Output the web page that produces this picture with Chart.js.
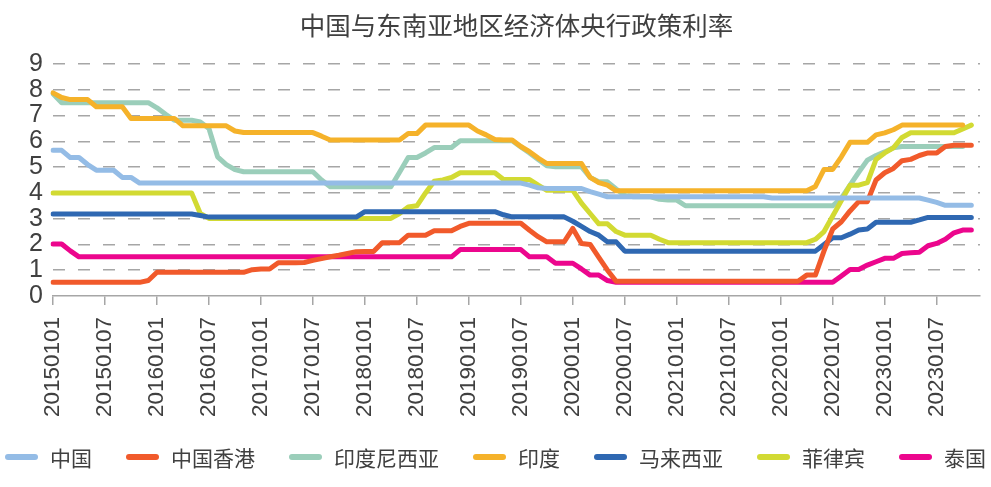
<!DOCTYPE html>
<html>
<head>
<meta charset="utf-8">
<script src="https://cdn.jsdelivr.net/npm/chart.js@4.4.0/dist/chart.umd.min.js"></script>
<style>
html,body{margin:0;padding:0;background:#ffffff;}
#wrap{width:991px;height:487px;position:relative;}
canvas{display:block;}
</style>
</head>
<body>
<div id="wrap"><canvas id="c" width="991" height="487" style="width:991px;height:487px"></canvas></div>
<script>
// ---------- data (monthly, starting 2015-01) ----------
const chartTitle = '中国与东南亚地区经济体央行政策利率';
const seriesNames = ['中国', '中国香港', '印度尼西亚', '印度', '马来西亚', '菲律宾', '泰国'];
const seriesColors = ['#94BCE6', '#F15A2B', '#9BCEBA', '#F5B22A', '#2F68B2', '#D2DA33', '#EC068D'];
const tickLabels = ['20150101','20150107','20160101','20160107','20170101','20170107','20180101','20180107',
  '20190101','20190107','20200101','20200107','20210101','20210107','20220101','20220107','20230101','20230107'];
const yMin = 0;
const yMax = 9;
const yStep = 1;

const china = [
  5.65,5.65,5.37,5.37,5.1,4.88,4.88,4.88,4.6,4.6,4.38,4.38,
  4.38,4.38,4.38,4.38,4.38,4.38,4.38,4.38,4.38,4.38,4.38,4.38,
  4.38,4.38,4.38,4.38,4.38,4.38,4.38,4.38,4.38,4.38,4.38,4.38,
  4.38,4.38,4.38,4.38,4.38,4.38,4.38,4.38,4.38,4.38,4.38,4.38,
  4.38,4.38,4.38,4.38,4.38,4.38,4.38,4.3,4.2,4.17,4.17,4.17,
  4.17,4.17,4.05,3.95,3.85,3.85,3.85,3.85,3.85,3.85,3.85,3.85,
  3.85,3.85,3.85,3.85,3.85,3.85,3.85,3.85,3.85,3.85,3.85,3.8,
  3.8,3.8,3.8,3.8,3.8,3.8,3.8,3.8,3.8,3.8,3.8,3.8,
  3.8,3.8,3.8,3.8,3.8,3.72,3.63,3.52,3.52,3.52,3.52
];
const hongKong = [
  0.53,0.53,0.53,0.53,0.53,0.53,0.53,0.53,0.53,0.53,0.53,0.6,
  0.92,0.92,0.92,0.92,0.92,0.92,0.92,0.92,0.92,0.92,0.92,1.02,
  1.05,1.05,1.29,1.29,1.29,1.3,1.38,1.45,1.52,1.58,1.65,1.72,
  1.73,1.73,2.07,2.07,2.07,2.36,2.36,2.36,2.53,2.53,2.53,2.7,
  2.82,2.82,2.82,2.82,2.82,2.82,2.82,2.55,2.3,2.1,2.1,2.1,
  2.62,2.04,2.0,1.5,1.0,0.57,0.57,0.57,0.57,0.57,0.57,0.57,
  0.57,0.57,0.57,0.57,0.57,0.57,0.57,0.57,0.57,0.57,0.57,0.57,
  0.57,0.57,0.57,0.81,0.81,1.75,2.6,2.88,3.3,3.66,3.66,4.5,
  4.78,4.95,5.25,5.3,5.45,5.55,5.55,5.8,5.85,5.85,5.85
];
const indonesia = [
  7.85,7.5,7.5,7.5,7.5,7.5,7.5,7.5,7.5,7.5,7.5,7.5,
  7.3,7.05,6.82,6.82,6.82,6.75,6.5,5.4,5.1,4.9,4.82,4.82,
  4.82,4.82,4.82,4.82,4.82,4.82,4.82,4.5,4.24,4.24,4.24,4.24,
  4.24,4.24,4.24,4.24,4.8,5.37,5.37,5.55,5.76,5.76,5.76,6.02,
  6.02,6.02,6.02,6.02,6.02,6.02,5.78,5.55,5.3,5.05,5.01,5.01,
  5.01,5.01,4.6,4.43,4.43,4.15,3.9,3.85,3.85,3.85,3.75,3.72,
  3.72,3.5,3.5,3.5,3.5,3.5,3.5,3.5,3.5,3.5,3.5,3.5,
  3.5,3.5,3.5,3.5,3.5,3.5,3.5,3.8,4.3,4.8,5.27,5.45,
  5.59,5.75,5.8,5.8,5.8,5.8,5.8,5.8,5.8,5.8
];
const india = [
  7.88,7.7,7.62,7.62,7.62,7.34,7.34,7.34,7.34,6.89,6.89,6.89,
  6.89,6.89,6.89,6.6,6.6,6.6,6.6,6.6,6.6,6.4,6.34,6.34,
  6.34,6.34,6.34,6.34,6.34,6.34,6.34,6.2,6.05,6.05,6.05,6.05,
  6.05,6.05,6.05,6.05,6.05,6.3,6.3,6.63,6.63,6.63,6.63,6.63,
  6.63,6.4,6.25,6.07,6.05,6.05,5.8,5.6,5.35,5.14,5.14,5.14,
  5.14,5.14,4.6,4.4,4.3,4.08,4.08,4.08,4.08,4.08,4.08,4.08,
  4.08,4.08,4.08,4.08,4.08,4.08,4.08,4.08,4.08,4.08,4.08,4.08,
  4.08,4.08,4.08,4.08,4.25,4.91,4.91,5.4,5.96,5.96,5.96,6.25,
  6.33,6.45,6.63,6.63,6.63,6.63,6.63,6.63,6.63,6.63
];
const malaysia = [
  3.18,3.18,3.18,3.18,3.18,3.18,3.18,3.18,3.18,3.18,3.18,3.18,
  3.18,3.18,3.18,3.18,3.18,3.12,3.06,3.06,3.06,3.06,3.06,3.06,
  3.06,3.06,3.06,3.06,3.06,3.06,3.06,3.06,3.06,3.06,3.06,3.06,
  3.27,3.27,3.27,3.27,3.27,3.27,3.27,3.27,3.27,3.27,3.27,3.27,
  3.27,3.27,3.27,3.27,3.15,3.07,3.07,3.07,3.07,3.07,3.07,3.07,
  2.9,2.7,2.5,2.36,2.1,2.1,1.74,1.74,1.74,1.74,1.74,1.74,
  1.74,1.74,1.74,1.74,1.74,1.74,1.74,1.74,1.74,1.74,1.74,1.74,
  1.74,1.74,1.74,1.74,1.74,2.0,2.26,2.26,2.4,2.56,2.6,2.86,
  2.86,2.86,2.86,2.86,2.95,3.05,3.05,3.05,3.05,3.05,3.05
];
const philippines = [
  4.0,4.0,4.0,4.0,4.0,4.0,4.0,4.0,4.0,4.0,4.0,4.0,
  4.0,4.0,4.0,4.0,4.0,3.2,3.01,3.01,3.01,3.01,3.01,3.01,
  3.01,3.01,3.01,3.01,3.01,3.01,3.01,3.01,3.01,3.01,3.01,3.01,
  3.01,3.01,3.01,3.01,3.2,3.45,3.5,4.0,4.45,4.5,4.6,4.78,
  4.78,4.78,4.78,4.78,4.52,4.52,4.52,4.52,4.3,4.1,4.1,4.1,
  4.1,3.6,3.2,2.8,2.8,2.5,2.36,2.36,2.36,2.36,2.2,2.07,
  2.07,2.07,2.07,2.07,2.07,2.07,2.07,2.07,2.07,2.07,2.07,2.07,
  2.07,2.07,2.07,2.07,2.2,2.5,3.1,3.7,4.3,4.3,4.4,5.3,
  5.55,5.75,6.15,6.33,6.33,6.33,6.33,6.33,6.33,6.48,6.63
];
const thailand = [
  2.02,2.02,1.75,1.52,1.52,1.52,1.52,1.52,1.52,1.52,1.52,1.52,
  1.52,1.52,1.52,1.52,1.52,1.52,1.52,1.52,1.52,1.52,1.52,1.52,
  1.52,1.52,1.52,1.52,1.52,1.52,1.52,1.52,1.52,1.52,1.52,1.52,
  1.52,1.52,1.52,1.52,1.52,1.52,1.52,1.52,1.52,1.52,1.52,1.8,
  1.8,1.8,1.8,1.8,1.8,1.8,1.8,1.52,1.52,1.52,1.27,1.27,
  1.27,1.05,0.81,0.81,0.6,0.53,0.53,0.53,0.53,0.53,0.53,0.53,
  0.53,0.53,0.53,0.53,0.53,0.53,0.53,0.53,0.53,0.53,0.53,0.53,
  0.53,0.53,0.53,0.53,0.53,0.53,0.53,0.78,1.03,1.03,1.2,1.33,
  1.46,1.46,1.65,1.68,1.7,1.95,2.04,2.2,2.45,2.56,2.56
];
const seriesData = [china, hongKong, indonesia, india, malaysia, philippines, thailand];
const drawOrder = [0, 1, 5, 2, 3, 4, 6]; // lower = drawn on top

// ---------- chart ----------
const monthCount = 108;
const monthLabels = [];
for (let i = 0; i < monthCount; i++) {
  monthLabels.push((2015 + Math.floor(i / 12)) + '-' + String(i % 12 + 1).padStart(2, '0'));
}

const legendPlugin = {
  id: 'bottomLegend',
  afterDraw(chart) {
    const ctx = chart.ctx;
    ctx.save();
    ctx.font = '21px "Noto Sans CJK SC"';
    const sw = 33, gapText = 12, gapItem = 34, yc = 457;
    const items = chart.data.datasets.map(d => ({t: d.label, c: d.borderColor, w: ctx.measureText(d.label).width}));
    let total = 0;
    items.forEach((it, k) => { total += sw + gapText + it.w + (k ? gapItem : 0); });
    let x = (chart.width - total) / 2;
    items.forEach(it => {
      ctx.beginPath();
      ctx.strokeStyle = it.c;
      ctx.lineWidth = 6;
      ctx.lineCap = 'round';
      ctx.moveTo(x + 3, yc);
      ctx.lineTo(x + sw - 3, yc);
      ctx.stroke();
      ctx.fillStyle = '#404040';
      ctx.textBaseline = 'middle';
      ctx.textAlign = 'left';
      ctx.fillText(it.t, x + sw + gapText, yc + 1);
      x += sw + gapText + it.w + gapItem;
    });
    ctx.restore();
  }
};

const datasets = seriesNames.map((name, k) => ({
  label: name,
  data: seriesData[k],
  borderColor: seriesColors[k],
  backgroundColor: seriesColors[k],
  borderWidth: 5,
  pointRadius: 0,
  pointHoverRadius: 0,
  tension: 0,
  fill: false,
  borderJoinStyle: 'round',
  borderCapStyle: 'round',
  order: drawOrder[k]
}));

new Chart(document.getElementById('c'), {
  type: 'line',
  data: {labels: monthLabels, datasets: datasets},
  plugins: [legendPlugin],
  options: {
    responsive: false,
    animation: false,
    devicePixelRatio: 1,
    layout: {padding: {left: 23, right: 11, top: 0, bottom: 70}},
    plugins: {
      legend: {display: false},
      tooltip: {enabled: false},
      title: {
        display: true,
        fullSize: false,
        text: chartTitle,
        color: '#404040',
        font: {family: '"Noto Sans CJK SC"', size: 25.5, weight: 'normal'},
        padding: {top: 10, bottom: 23.4}
      }
    },
    scales: {
      x: {
        type: 'category',
        offset: false,
        afterFit: function(scale) { scale.height = 121; },
        grid: {display: true, drawOnChartArea: false, drawTicks: true, tickLength: 9, color: '#A6A6A6', lineWidth: 1.5},
        border: {display: true, color: '#A6A6A6', width: 1.5},
        ticks: {
          autoSkip: false,
          minRotation: 90,
          maxRotation: 90,
          padding: 12,
          color: '#404040',
          font: {family: '"Liberation Sans", Arial, sans-serif', size: 22.5},
          callback: function(value, index) {
            return index % 6 === 0 && tickLabels[index / 6] ? tickLabels[index / 6] : null;
          }
        }
      },
      y: {
        min: yMin,
        max: yMax,
        afterFit: function(scale) { scale.width = 30; },
        grid: {
          drawTicks: false,
          lineWidth: 1.5,
          color: ctx => ctx.index === 0 ? 'rgba(0,0,0,0)' : '#A6A6A6'
        },
        border: {display: false, dash: [12, 13]},
        ticks: {
          stepSize: yStep,
          autoSkip: false,
          padding: 10,
          color: '#404040',
          font: {family: '"Liberation Sans", Arial, sans-serif', size: 25}
        }
      }
    }
  }
});
</script>
</body>
</html>
